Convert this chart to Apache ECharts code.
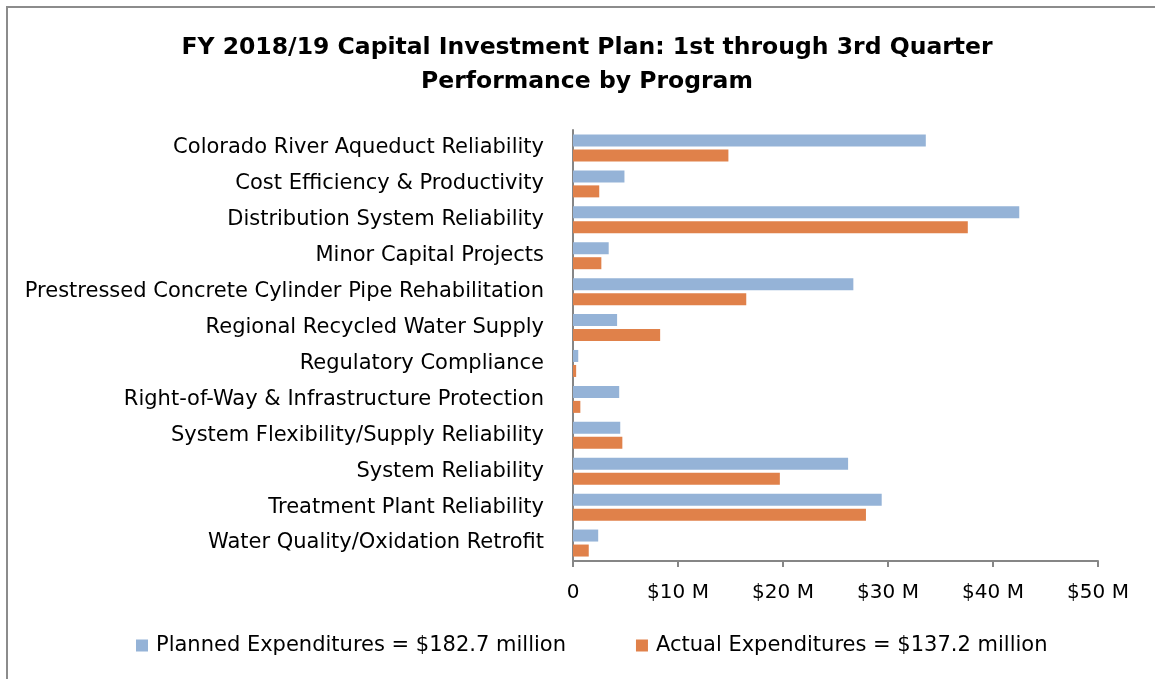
<!DOCTYPE html>
<html>
<head>
<meta charset="utf-8">
<script src="https://cdn.jsdelivr.net/npm/echarts@6/dist/echarts.min.js"></script>
<style>
  html, body { margin: 0; padding: 0; background: #fff; }
  #chart { width: 1155px; height: 679px; }
</style>
</head>
<body>
<div id="chart"></div>
<script>
var categories = [
    'Colorado River Aqueduct Reliability',
    'Cost Efficiency & Productivity',
    'Distribution System Reliability',
    'Minor Capital Projects',
    'Prestressed Concrete Cylinder Pipe Rehabilitation',
    'Regional Recycled Water Supply',
    'Regulatory Compliance',
    'Right-of-Way & Infrastructure Protection',
    'System Flexibility/Supply Reliability',
    'System Reliability',
    'Treatment Plant Reliability',
    'Water Quality/Oxidation Retrofit'
];
// $ millions
var planned = [33.6, 4.9, 42.5, 3.4, 26.7, 4.2, 0.5, 4.4, 4.5, 26.2, 29.4, 2.4];
var actual = [14.8, 2.5, 37.6, 2.7, 16.5, 8.3, 0.3, 0.7, 4.7, 19.7, 27.9, 1.5];
var seriesNames = ['Planned Expenditures = $182.7 million', 'Actual Expenditures = $137.2 million'];
var tickLabels = ['0', '$10 M', '$20 M', '$30 M', '$40 M', '$50 M'];

window.onload = function () {
    var chart = echarts.init(document.getElementById('chart'));
    var font = '"DejaVu Sans", sans-serif';

    var option = {
        animation: false,
        textStyle: { fontFamily: font },
        title: {
            text: 'FY 2018/19 Capital Investment Plan: 1st through 3rd Quarter\nPerformance by Program',
            left: 582,
            textAlign: 'center',
            top: 26,
            textStyle: { fontSize: 23.5, fontWeight: 'bold', color: '#000', lineHeight: 34, fontFamily: font }
        },
        graphic: [{
            type: 'rect',
            shape: { x: 7, y: 7, width: 1600, height: 1000 },
            style: { fill: 'none', stroke: '#8c8c8c', lineWidth: 2 },
            silent: true
        }],
        legend: {
            bottom: 18,
            left: 131,
            itemWidth: 12,
            itemHeight: 12,
            itemGap: 70,
            icon: 'rect',
            textStyle: { fontSize: 21, color: '#000', fontFamily: font, padding: [0, 0, 0, 3] },
            data: seriesNames
        },
        grid: { left: 573, right: 57, top: 130, bottom: 118, containLabel: false },
        xAxis: {
            type: 'value',
            min: 0,
            max: 50,
            interval: 10,
            splitLine: { show: false },
            axisLine: { show: true, lineStyle: { color: '#868686', width: 2 } },
            axisTick: { show: true, length: 6, lineStyle: { color: '#868686', width: 2 } },
            axisLabel: {
                fontSize: 20, color: '#000', margin: 22,
                formatter: function (v) { return tickLabels[Math.round(v / 10)]; }
            }
        },
        yAxis: {
            type: 'category',
            inverse: true,
            data: categories,
            axisLine: { show: true, lineStyle: { color: '#868686', width: 2 } },
            axisTick: { show: false },
            axisLabel: { fontSize: 21, color: '#000', margin: 29 }
        },
        series: [{
            name: seriesNames[0],
            type: 'bar',
            data: planned,
            barWidth: 12,
            barGap: '25%',
            itemStyle: { color: '#95B3D7' }
        }, {
            name: seriesNames[1],
            type: 'bar',
            data: actual,
            barWidth: 12,
            barGap: '25%',
            itemStyle: { color: '#E0814A' }
        }]
    };

    chart.setOption(option);
};
</script>
</body>
</html>
